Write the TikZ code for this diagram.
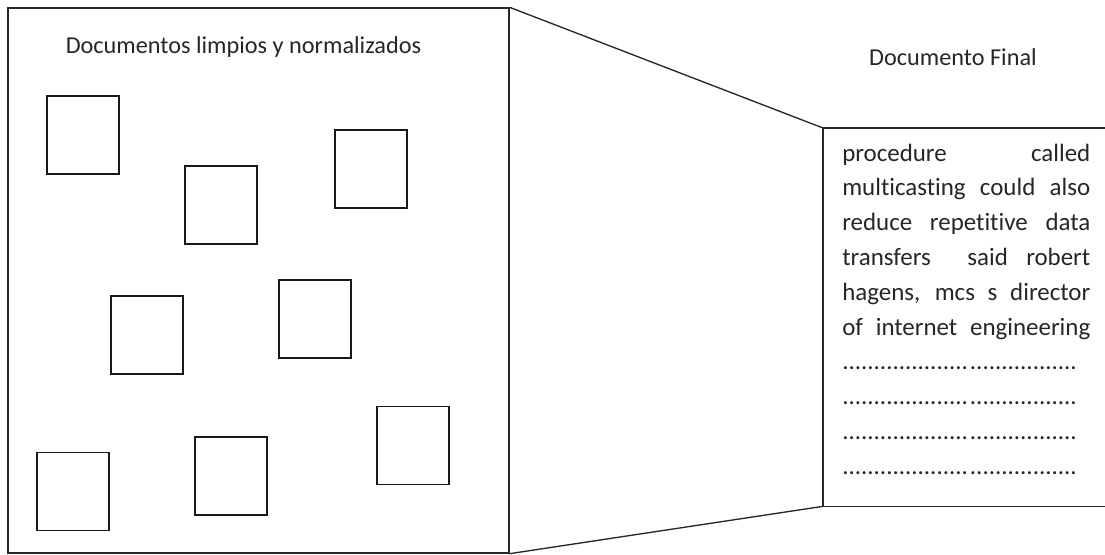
\documentclass[tikz,border=0pt]{standalone}
\usepackage{fontspec}
\setmainfont{Carlito}[Ligatures=CommonOff]
\usepackage{tikz}
\usetikzlibrary{positioning}

\newcommand{\dotrow}{....................\hspace{1.5pt}.................}

\begin{document}
\begin{tikzpicture}[
x=0.75pt, y=-0.75pt,
% Style for the outer frames
frame style/.style={
rectangle,
draw=black!85,
line width=1pt,
inner sep=0pt
},
% Style for the small documents
doc style/.style={
rectangle,
draw=black!90,
line width=1.2pt,
minimum width=54pt,
minimum height=58.5pt,
inner sep=0pt
},
% Style for the text
label style/.style={
font=\fontsize{18.2pt}{26.1pt}\selectfont,
text=black!85,
inner sep=0pt
}
]

\useasboundingbox (0,0) rectangle (1105,554);

% Left frame with the clean documents
\node[frame style, minimum width=375.75pt, minimum height=408.75pt] (clean) at (258.5,280.5) {};
\node[label style, anchor=base] (cleantitle) at (243.5,53) {Documentos limpios y normalizados};

% Place the 8 documents inside the frame
\foreach \x/\y [count=\i] in {83/135, 221/205, 371/169, 147/335, 315/319, 73/491.5, 231/476, 413/445.5} {
\node[doc style] (d\i) at (\x,\y) {};
}

% Right frame: the final document (cut by the page edge)
\node[frame style, draw=none, anchor=north west, minimum width=211.5pt, minimum height=282.75pt] (final) at (823,128) {};
\draw[line width=1pt, black!85] (final.north east) -- (final.north west) -- (final.south west) -- (final.south east);
\node[label style, anchor=base] (finaltitle) at (953,65) {Documento Final};

\node[label style, font=\fontsize{18.7pt}{26.1pt}\selectfont, anchor=north west, text width=186pt, align=justify, inner xsep=14.25pt, inner ysep=11.6pt] (finaltext) at (final.north west) {%
procedure called\linebreak
multicasting could also\linebreak
reduce repetitive data\linebreak
transfers\ \ said robert\linebreak
hagens, mcs s director\linebreak
of internet engineering\linebreak
\mbox{\dotrow}\\
\mbox{\dotrow}\\
\mbox{\dotrow}\\
\mbox{\dotrow}};

% Zoom lines between the two frames
\draw[line width=1pt, black!85] (clean.north east) -- (final.north west);
\draw[line width=1pt, black!85] (clean.south east) -- (final.south west);

\end{tikzpicture}
\end{document}
